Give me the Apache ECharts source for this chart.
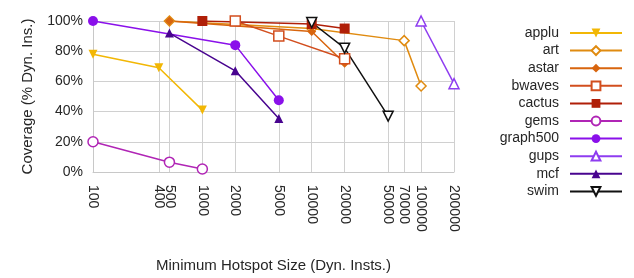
<!DOCTYPE html>
<html>
<head>
<meta charset="utf-8">
<script src="https://cdn.jsdelivr.net/npm/echarts@6/dist/echarts.min.js"></script>
<style>
  html, body { margin: 0; padding: 0; background: #fff; }
  #chart { width: 634px; height: 278px; }
</style>
</head>
<body>
<div id="chart"></div>
<script>
// x = minimum hotspot size, y = coverage (%)
const xTicks = [100, 400, 500, 1000, 2000, 5000, 10000, 20000, 50000, 70000, 100000, 200000];

const applu = [[100, 78], [400, 69], [1000, 41]];
const art = [[500, 100], [10000, 95], [70000, 87], [100000, 57]];
const astar = [[500, 100], [10000, 93], [20000, 72]];
const bwaves = [[2000, 100], [5000, 90], [20000, 75]];
const cactus = [[1000, 100], [10000, 98], [20000, 95]];
const gems = [[100, 20], [500, 6.5], [1000, 2]];
const graph500 = [[100, 100], [2000, 84], [5000, 47.5]];
const gups = [[100000, 100], [200000, 58.5]];
const mcf = [[500, 92], [2000, 67], [5000, 35.5]];
const swim = [[10000, 99], [20000, 82], [50000, 37]];

const FONT = "Liberation Sans, Arial, sans-serif";
const TXT = "#262626";

function line(name, data, color, symbol, size, hollow, rotate) {
  return {
    name: name,
    type: "line",
    data: data,
    symbol: symbol,
    symbolSize: size,
    symbolRotate: rotate || 0,
    showAllSymbol: true,
    lineStyle: { color: color, width: 1.5 },
    itemStyle: hollow
      ? { color: "#fff", borderColor: color, borderWidth: 1.5 }
      : { color: color, borderColor: color, borderWidth: 0 },
    emphasis: { disabled: true },
  };
}

const chart = echarts.init(document.getElementById("chart"));
chart.setOption({
  animation: false,
  textStyle: { fontFamily: FONT },
  grid: { left: 93, right: 180, top: 21, bottom: 105 },
  legend: {
    orient: "vertical",
    right: 6,
    top: 21,
    align: "right",
    itemWidth: 52,
    itemHeight: 11,
    itemGap: 3.6,
    textStyle: { fontSize: 14, color: TXT, fontFamily: FONT, padding: [0, 6, 0, 0] },
  },
  xAxis: {
    type: "log",
    logBase: 10,
    min: 100,
    max: 200000,
    name: "Minimum Hotspot Size (Dyn. Insts.)",
    nameLocation: "middle",
    nameGap: 86,
    nameTextStyle: { fontSize: 15, color: TXT },
    axisLine: { lineStyle: { color: "#c8c8c8" } },
    axisTick: { show: false, customValues: xTicks },
    axisLabel: {
      customValues: xTicks,
      rotate: -90,
      fontSize: 14,
      color: TXT,
      margin: 13,
      formatter: (v) => String(v),
    },
    splitLine: { show: true, lineStyle: { color: "#d0d0d0", width: 1 } },
  },
  yAxis: {
    type: "value",
    min: 0,
    max: 100,
    interval: 20,
    name: "Coverage (% Dyn. Ins.)",
    nameLocation: "middle",
    nameGap: 58,
    nameTextStyle: { fontSize: 15, color: TXT },
    axisLine: { show: true, lineStyle: { color: "#c8c8c8" } },
    axisTick: { show: false },
    axisLabel: { formatter: "{value}%", fontSize: 14, color: TXT, margin: 10 },
    splitLine: { lineStyle: { color: "#d0d0d0", width: 1 } },
  },
  series: [
    line("applu", applu, "#F2B705", "triangle", 9, false, 180),
    line("art", art, "#E08B10", "diamond", 10, true),
    line("astar", astar, "#D8650E", "diamond", 9, false),
    line("bwaves", bwaves, "#D24E1E", "rect", 10, true),
    line("cactus", cactus, "#B01F08", "rect", 10, false),
    line("gems", gems, "#B025B5", "circle", 10, true),
    line("graph500", graph500, "#8A10EA", "circle", 10, false),
    line("gups", gups, "#8E3CF0", "triangle", 10, true),
    line("mcf", mcf, "#48048F", "triangle", 9, false),
    line("swim", swim, "#111111", "triangle", 10, true, 180),
  ],
});
</script>
</body>
</html>
